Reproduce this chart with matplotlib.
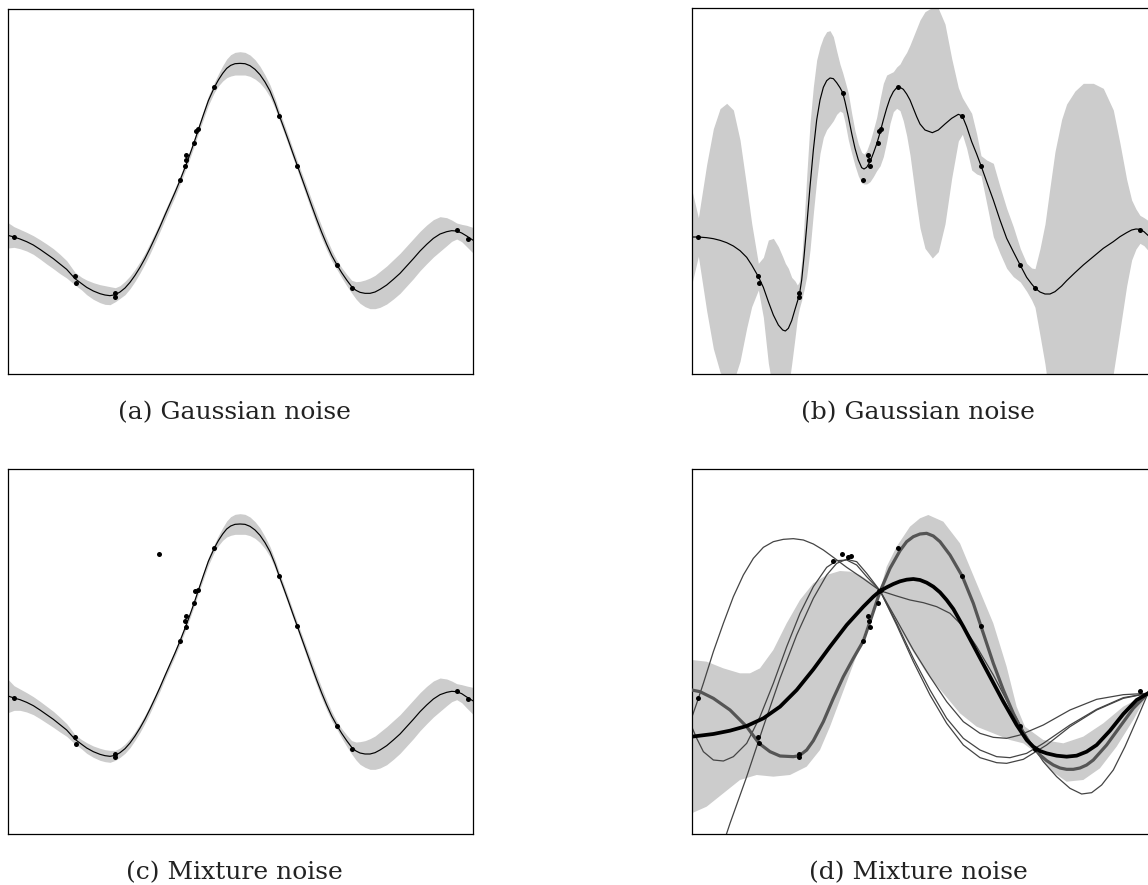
import numpy as np
import matplotlib
matplotlib.use("Agg")
import matplotlib.pyplot as plt

# ---------------- data (panel units) ----------------
# Panels (a) and (c) share the same input grid
ac_x = [24, 42, 60, 80, 100, 120, 140, 160, 180, 200, 225, 245, 260, 280, 300, 315, 330, 346, 360, 375,
        390, 405, 420, 435, 450, 465, 480, 495, 510, 525, 540, 556, 570, 582, 594, 610, 625, 643, 655, 668,
        680, 692, 705, 720, 735, 750, 765, 780, 795, 810, 825, 838, 852, 865, 878, 892, 906, 920, 935, 950,
        965, 980, 995, 1011, 1025, 1040, 1055, 1068, 1080, 1095, 1110, 1125, 1140, 1160, 1180, 1200, 1220, 1240, 1260, 1280,
        1300, 1320, 1340, 1355, 1370, 1385, 1400, 1418]
# (a) Gaussian noise: posterior mean and band half-width
a_mean = [706, 711, 717, 725, 735, 748, 762, 776, 792, 808, 836, 851, 862, 873, 881, 885, 887, 884, 876, 864,
          847, 826, 802, 775, 745, 713, 680, 645, 611, 577, 541, 500, 462, 428, 392, 345, 302, 262, 240, 220,
          205, 196, 191, 190, 191, 197, 208, 224, 246, 273, 310, 347, 385, 421, 458, 497, 536, 575, 617, 658,
          697, 733, 766, 795, 818, 840, 860, 871, 877, 880, 880, 876, 868, 855, 838, 820, 798, 776, 753, 733,
          715, 702, 695, 692, 693, 699, 708, 720]
a_sd = [38, 31, 29, 28, 28, 29, 30, 30, 29, 26, 19, 19, 22, 25, 27, 28, 27, 21, 19, 20,
        19, 18, 17, 16, 16, 15, 14, 14, 13, 13, 12, 12, 12, 12, 12, 13, 14, 15, 18, 23,
        28, 32, 34, 35, 34, 32, 29, 25, 21, 18, 15, 14, 14, 14, 14, 14, 15, 16, 17, 18,
        18, 17, 16, 14, 15, 17, 19, 26, 33, 40, 46, 50, 54, 57, 59, 60, 60, 60, 59, 58,
        56, 52, 42, 32, 24, 26, 32, 38]
a_px = [42, 225, 227, 346, 346, 540, 556, 557, 558, 582, 588, 594, 643, 838, 892, 1011, 1055, 1370, 1403]
a_py = [711, 828, 848, 880, 890, 541, 497, 480, 466, 428, 392, 388, 262, 347, 497, 795, 864, 690, 716]

# (c) Mixture noise: posterior mean and band half-width
c_mean = [708, 714, 719, 727, 737, 750, 764, 778, 794, 810, 838, 853, 864, 875, 883, 887, 889, 886, 878, 866,
          849, 828, 804, 777, 747, 715, 682, 647, 613, 579, 543, 502, 464, 430, 394, 347, 304, 264, 242, 222,
          207, 198, 193, 192, 193, 199, 210, 226, 248, 275, 312, 349, 387, 423, 460, 499, 538, 577, 619, 660,
          699, 735, 768, 797, 820, 842, 862, 873, 879, 882, 882, 878, 870, 857, 840, 822, 800, 778, 755, 735,
          717, 704, 697, 694, 695, 701, 711, 722]
c_sd = [50, 37, 32, 29, 27, 26, 25, 24, 22, 19, 14, 14, 16, 17, 18, 18, 18, 15, 14, 14,
        14, 13, 13, 12, 12, 11, 11, 10, 10, 10, 10, 10, 10, 10, 10, 11, 12, 12, 15, 19,
        24, 28, 30, 31, 30, 28, 25, 22, 18, 15, 13, 12, 12, 12, 12, 12, 13, 14, 15, 16,
        16, 15, 14, 12, 14, 17, 20, 27, 34, 40, 46, 50, 54, 57, 58, 58, 58, 58, 57, 56,
        54, 50, 40, 31, 24, 27, 33, 40]
c_px = [42, 225, 227, 346, 346, 477, 540, 557, 555, 557, 582, 586, 594, 643, 838, 892, 1011, 1055, 1370, 1403]
c_py = [714, 830, 851, 882, 892, 281, 543, 500, 482, 468, 430, 394, 390, 264, 349, 499, 797, 867, 693, 718]

# (b) Gaussian noise fitted to data with an outlier
b_x = [35, 55, 80, 100, 120, 140, 160, 180, 200, 215, 235, 250, 265, 280, 295, 308, 316, 325, 335, 345,
       352, 358, 365, 372, 380, 390, 400, 410, 420, 430, 440, 450, 460, 470, 480, 488, 495, 505, 515, 525,
       535, 545, 552, 560, 570, 580, 590, 600, 610, 620, 630, 640, 650, 660, 670, 680, 690, 700, 710, 720,
       735, 757, 775, 795, 815, 835, 847, 860, 875, 890, 903, 920, 940, 960, 980, 1000, 1021, 1040, 1055, 1065,
       1080, 1095, 1110, 1125, 1145, 1160, 1185, 1210, 1240, 1270, 1300, 1320, 1340, 1355, 1368, 1380, 1392, 1404, 1429]
b_mean = [711, 711, 713, 716, 721, 728, 738, 752, 772, 795, 830, 862, 905, 945, 975, 990, 993, 985, 962, 928,
          905, 885, 840, 770, 680, 560, 450, 360, 300, 262, 242, 234, 236, 248, 263, 278, 305, 350, 400, 445,
          480, 503, 507, 502, 485, 460, 432, 398, 360, 325, 295, 275, 263, 262, 268, 282, 300, 325, 350, 372,
          390, 398, 390, 372, 355, 343, 348, 380, 425, 462, 497, 545, 600, 660, 715, 755, 796, 832, 852, 864,
          876, 882, 882, 875, 858, 842, 818, 795, 770, 745, 725, 710, 698, 690, 687, 688, 695, 706, 725]
b_sd = [143, 58, 220, 330, 395, 418, 408, 332, 212, 125, 40, 90, 185, 230, 235, 220, 203, 180, 130, 85,
        50, 40, 60, 100, 150, 190, 190, 180, 160, 150, 147, 142, 126, 95, 70, 60, 62, 70, 60, 52,
        48, 46, 45, 50, 60, 70, 80, 100, 110, 100, 75, 60, 62, 70, 95, 125, 165, 215, 265, 312,
        355, 376, 365, 300, 180, 80, 55, 65, 85, 60, 30, 65, 110, 100, 90, 75, 50, 42, 48, 58,
        130, 210, 320, 420, 500, 530, 545, 545, 520, 480, 395, 280, 160, 90, 60, 42, 42, 45, 50]
b_px = [55, 235, 237, 358, 358, 488, 550, 565, 568, 570, 593, 597, 603, 655, 847, 903, 1021, 1065, 1380, 1413]
b_py = [711, 828, 849, 880, 890, 278, 541, 466, 480, 497, 428, 392, 388, 262, 348, 497, 796, 864, 690, 716]

# (d) Mixture noise: mean, main sample, thinner samples and band
d_mean_x = [35, 100, 150, 200, 250, 300, 350, 400, 450, 500, 550, 580, 600, 620, 640, 660, 680, 700, 720, 740,
            760, 780, 800, 820, 850, 890, 930, 970, 1010, 1040, 1060, 1080, 1100, 1130, 1160, 1190, 1220, 1250, 1290, 1330,
            1370, 1404, 1429]
d_mean_y = [830, 822, 812, 798, 775, 740, 690, 628, 560, 495, 440, 410, 393, 382, 372, 364, 359, 357, 360, 368,
            380, 397, 420, 447, 500, 575, 650, 725, 795, 840, 860, 873, 880, 887, 890, 887, 875, 855, 812, 762,
            720, 700, 690]
d_main_x = [35, 60, 100, 150, 200, 237, 270, 300, 340, 358, 380, 400, 430, 460, 490, 520, 550, 575, 600, 630,
            660, 680, 700, 720, 740, 760, 780, 810, 847, 880, 910, 940, 970, 1000, 1025, 1050, 1080, 1100, 1120, 1140,
            1160, 1180, 1200, 1220, 1240, 1280, 1320, 1360, 1404, 1429]
d_main_y = [690, 695, 715, 750, 800, 850, 875, 888, 890, 887, 870, 842, 785, 715, 650, 595, 543, 470, 395, 325,
            272, 245, 230, 222, 220, 228, 245, 285, 349, 430, 520, 610, 690, 760, 810, 850, 885, 902, 915, 924,
            928, 928, 924, 915, 900, 855, 800, 745, 700, 670]
d_s1_x = [35, 50, 70, 100, 130, 160, 190, 220, 250, 280, 310, 340, 370, 400, 430, 460, 500, 550, 600, 650,
          690, 730, 770, 810, 850, 890, 940, 990, 1040, 1090, 1130, 1170, 1205, 1235, 1265, 1300, 1335, 1370, 1404, 1429]
d_s1_y = [773, 730, 670, 575, 490, 410, 345, 295, 262, 245, 238, 236, 240, 252, 270, 292, 322, 356, 392, 408,
          420, 428, 440, 460, 500, 560, 645, 740, 830, 905, 950, 985, 1002, 998, 975, 930, 860, 780, 700, 640]
d_s2_x = [35, 50, 70, 100, 130, 160, 200, 240, 280, 320, 360, 400, 440, 470, 500, 530, 560, 600, 650, 700,
          750, 800, 850, 900, 940, 980, 1020, 1090, 1170, 1250, 1330, 1404, 1429]
d_s2_y = [800, 835, 875, 900, 903, 890, 850, 770, 670, 560, 460, 380, 322, 302, 300, 315, 350, 392, 480, 570,
          650, 725, 785, 820, 832, 835, 825, 795, 750, 718, 704, 700, 699]
d_s3_x = [130, 150, 175, 200, 250, 300, 350, 400, 440, 470, 500, 530, 560, 600, 650, 700, 750, 800, 850, 900,
          950, 990, 1040, 1090, 1170, 1250, 1330, 1404, 1429]
d_s3_y = [1150, 1090, 1020, 950, 800, 655, 525, 415, 345, 310, 298, 305, 340, 392, 490, 595, 690, 775, 835, 870,
          890, 893, 880, 850, 795, 748, 713, 700, 697]
d_s4_x = [600, 650, 700, 750, 800, 850, 900, 950, 980, 1030, 1100, 1170, 1250, 1330, 1404, 1429]
d_s4_y = [392, 495, 605, 705, 790, 855, 893, 908, 910, 898, 855, 800, 750, 715, 700, 696]
d_up_x = [35, 80, 130, 180, 210, 240, 280, 320, 360, 400, 440, 480, 510, 540, 570, 600, 620, 650, 690, 720,
          745, 790, 840, 890, 940, 980, 1010, 1035, 1090, 1150, 1210, 1270, 1330, 1404, 1429]
d_up_y = [600, 605, 625, 640, 640, 625, 570, 490, 420, 370, 345, 333, 335, 345, 365, 392, 320, 260, 200, 175,
          165, 185, 250, 370, 490, 620, 740, 800, 840, 850, 830, 790, 740, 700, 690]
d_lo_x = [35, 80, 130, 180, 230, 280, 330, 380, 420, 450, 480, 510, 540, 570, 600, 620, 650, 690, 740, 790,
          840, 890, 940, 990, 1030, 1070, 1110, 1160, 1210, 1260, 1310, 1360, 1404, 1429]
d_lo_y = [1060, 1040, 1000, 960, 945, 950, 945, 920, 870, 800, 720, 640, 560, 470, 392, 430, 490, 560, 640, 700,
          760, 800, 820, 840, 850, 880, 930, 965, 960, 925, 860, 780, 700, 670]
d_px = [55, 235, 237, 358, 358, 460, 487, 503, 513, 550, 565, 567, 570, 593, 597, 603, 655, 847, 903, 1021, 1065, 1380]
d_py = [714, 830, 850, 882, 892, 303, 281, 292, 287, 543, 468, 482, 500, 430, 394, 390, 264, 349, 499, 797, 866, 693]

captions = ["(a) Gaussian noise", "(b) Gaussian noise", "(c) Mixture noise", "(d) Mixture noise"]

# ---------------- styling ----------------
BAND = "#cccccc"
W, H = 1148, 885
fig = plt.figure(figsize=(W / 100, H / 100), dpi=100)


def make_ax(left, top, right, bottom, xlim, ylim):
    ax = fig.add_axes([left / W, 1 - bottom / H, (right - left) / W, (bottom - top) / H])
    ax.set_xlim(*xlim)
    ax.set_ylim(*ylim)
    ax.set_xticks([])
    ax.set_yticks([])
    for s in ax.spines.values():
        s.set_linewidth(0.9)
        s.set_color("black")
    return ax


def dots(ax, x, y):
    ax.plot(x, y, "o", color="black", ms=3.6, mew=0, zorder=5)


def gp_panel(ax, x, mean, sd, px, py):
    m, s = np.array(mean), np.array(sd)
    ax.fill_between(x, m - s, m + s, color=BAND, lw=0, zorder=1)
    ax.plot(x, m, color="black", lw=0.85, zorder=3, solid_joinstyle="round")
    dots(ax, px, py)


ax = make_ax(8, 8.7, 472.7, 374, (24, 1418), (1122, 26))
gp_panel(ax, ac_x, a_mean, a_sd, a_px, a_py)

ax = make_ax(691.7, 8, 1156.3, 374, (35, 1429), (1122, 24))
gp_panel(ax, b_x, b_mean, b_sd, b_px, b_py)

ax = make_ax(8, 469, 472.7, 834, (24, 1418), (1122, 27))
gp_panel(ax, ac_x, c_mean, c_sd, c_px, c_py)

ax = make_ax(691.7, 469, 1156.3, 834, (35, 1429), (1122, 27))
ax.fill(list(d_up_x) + list(d_lo_x)[::-1], list(d_up_y) + list(d_lo_y)[::-1], color=BAND, lw=0, zorder=1)
for xs, ys in [(d_s1_x, d_s1_y), (d_s2_x, d_s2_y), (d_s3_x, d_s3_y), (d_s4_x, d_s4_y)]:
    ax.plot(xs, ys, color="#444444", lw=0.9, zorder=2, solid_joinstyle="round")
ax.plot(d_main_x, d_main_y, color="#555555", lw=2.3, zorder=3, solid_joinstyle="round")
ax.plot(d_mean_x, d_mean_y, color="black", lw=2.7, zorder=4, solid_joinstyle="round")
dots(ax, d_px, d_py)

for txt, cx, cy in zip(captions, [234, 918, 234, 918], [419, 419, 879, 879]):
    fig.text(cx / W, 1 - cy / H, txt, ha="center", va="baseline",
             family="DejaVu Serif", fontsize=18, color="#222222")

fig.savefig("out.png", dpi=100)
